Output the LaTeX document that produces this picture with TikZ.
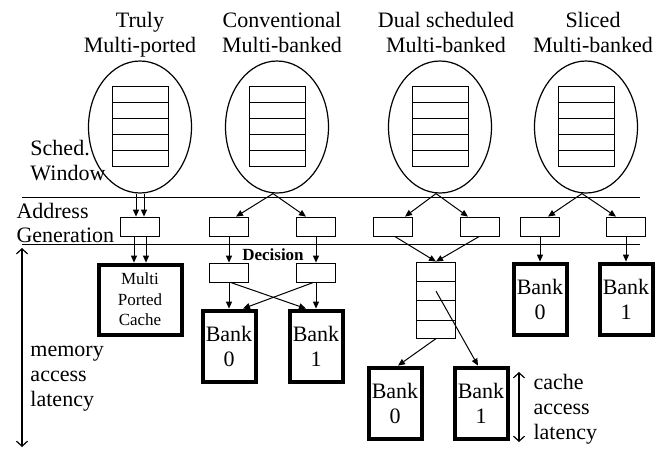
\documentclass[tikz,border=0pt]{standalone}
\usepackage{fontspec}
\setmainfont{Liberation Serif}
\usetikzlibrary{shapes.geometric,positioning,arrows.meta}

\newcommand{\bigfnt}{\fontsize{22}{25}\selectfont}
\newcommand{\smallfnt}{\fontsize{17}{20.5}\selectfont}

\begin{document}
\begin{tikzpicture}[x=1pt, y=-1pt, line width=1pt,
  every node/.style={font=\bigfnt},
  window/.style={draw, ellipse, line width=1.2pt, minimum width=103pt, minimum height=132pt, inner sep=0pt},
  agen/.style={draw, minimum width=39pt, minimum height=19pt, inner sep=0pt},
  bank/.style={draw, line width=4pt, minimum width=53pt, minimum height=71pt, inner sep=0pt, align=center},
  heading/.style={anchor=north, align=center, inner sep=0pt},
  sidelabel/.style={anchor=north west, align=left, inner sep=0pt},
  conn/.style={-{Triangle[length=7pt,width=6pt]}},
  span/.style={line width=1.2pt, {Straight Barb[length=5pt,width=11pt]}-{Straight Barb[length=5pt,width=11pt]}}]
  \useasboundingbox (0,0) rectangle (667,448);

  % scheduling windows
  \node[window] (e1) at (140,127) {};
  \node[window] (e2) at (277,127) {};
  \node[window] (e3) at (440,127) {};
  \node[window] (e4) at (586,127) {};
  \foreach \cx in {140,277,440,586} {
    \foreach \r in {0,...,4}
      \draw (\cx-28,86+16*\r) rectangle ++(56,16);
  }

  \node[heading] (h1) at (140,12) {Truly\\Multi-ported};
  \node[heading] (h2) at (282,12) {Conventional\\Multi-banked};
  \node[heading] (h3) at (446,12) {Dual scheduled\\Multi-banked};
  \node[heading] (h4) at (593,12) {Sliced\\Multi-banked};

  % address generation
  \node[agen, below=23pt of e1] (a1) {};
  \node[agen, below=23pt of e2, xshift=-48pt] (a2) {};
  \node[agen, below=23pt of e2, xshift=39pt] (a3) {};
  \node[agen, below=23pt of e3, xshift=-47pt] (a4) {};
  \node[agen, below=23pt of e3, xshift=40pt] (a5) {};
  \node[agen, below=23pt of e4, xshift=-46pt] (a6) {};
  \node[agen, below=23pt of e4, xshift=40pt] (a7) {};

  % caches
  \node[bank, below=26pt of a1, minimum width=83pt, minimum height=70pt, font=\smallfnt] (c1) {Multi\\Ported\\Cache};
  \node[agen, below=26pt of a2] (d1) {};
  \node[agen, below=26pt of a3] (d2) {};
  \node[font=\fontsize{17}{20}\selectfont\bfseries] (dec) at (273,255) {Decision};
  \node[bank, below=26pt of d1] (b0) {Bank\\0};
  \node[bank, below=26pt of d2] (b1) {Bank\\1};
  \node[agen, below=25pt of a4, xshift=43pt, minimum height=76pt] (q) {};
  \foreach \k in {1,2,3}
    \draw ([yshift=-\k*19.5pt]q.north west) -- ([yshift=-\k*19.5pt]q.north east);
  \node[bank, below=27pt of q, xshift=-41pt] (lb0) {Bank\\0};
  \node[bank, below=27pt of q, xshift=45pt] (lb1) {Bank\\1};
  \node[bank, below=25pt of a6] (sb0) {Bank\\0};
  \node[bank, below=25pt of a7] (sb1) {Bank\\1};

  % stage lines and labels
  \coordinate (t0) at (22,197);
  \coordinate (t1) at (640,197);
  \coordinate (g0) at (22,244);
  \coordinate (g1) at (640,244);
  \draw (t0) -- (t1);
  \draw (g0) -- (g1);
  \node[sidelabel] (sched) at (30,140) {Sched.\\Window};
  \node[sidelabel, font=\fontsize{22}{23.5}\selectfont] (addr) at (16,203) {Address\\Generation};
  \coordinate (m0) at (22,248);
  \coordinate (m1) at (22,447);
  \draw[span] (m0) -- (m1);
  \node[sidelabel] (mem) at (30,346) {memory\\access\\latency};
  \coordinate (k0) at (519,372);
  \coordinate (k1) at (519,442);
  \draw[span] (k0) -- (k1);
  \node[sidelabel] (cal) at (533,374) {cache\\access\\latency};

  % Connect the nodes
  \draw[conn] ([xshift=-4pt]e1.south) -- ([xshift=-4pt]a1.north);
  \draw[conn] ([xshift=4pt]e1.south) -- ([xshift=4pt]a1.north);
  \draw[conn] ([xshift=-6pt]a1.south) -- ([xshift=-6pt]c1.north);
  \draw[conn] ([xshift=6pt]a1.south) -- ([xshift=6pt]c1.north);
  \draw[conn] ([xshift=-4pt]e2.south) -- ([xshift=7pt]a2.north);
  \draw[conn] ([xshift=-4pt]e2.south) -- ([xshift=-10pt]a3.north);
  \draw[conn] (a2.south) -- (d1.north);
  \draw[conn] (a3.south) -- (d2.north);
  \draw[conn] (d1.south) -- (b0.north);
  \draw[conn] (d2.south) -- (b1.north);
  \draw[conn] ([xshift=2pt]d1.south) -- ([xshift=-10pt]b1.north);
  \draw[conn] ([xshift=-3pt]d2.south) -- ([xshift=14pt]b0.north);
  \draw[conn] ([xshift=-4pt]e3.south) -- ([xshift=12pt]a4.north);
  \draw[conn] ([xshift=-4pt]e3.south) -- ([xshift=-12pt]a5.north);
  \draw[conn] ([xshift=2pt]a4.south) -- (q.north);
  \draw[conn] ([xshift=-1pt]a5.south) -- (q.north);
  \draw[conn] (q.south) -- ([xshift=3pt]lb0.north);
  \draw[conn] ([yshift=9pt]q.center) -- ([xshift=-3pt]lb1.north);
  \draw[conn] ([xshift=-4pt]e4.south) -- ([xshift=8pt]a6.north);
  \draw[conn] ([xshift=-4pt]e4.south) -- ([xshift=-10pt]a7.north);
  \draw[conn] (a6.south) -- (sb0.north);
  \draw[conn] (a7.south) -- (sb1.north);
\end{tikzpicture}
\end{document}
